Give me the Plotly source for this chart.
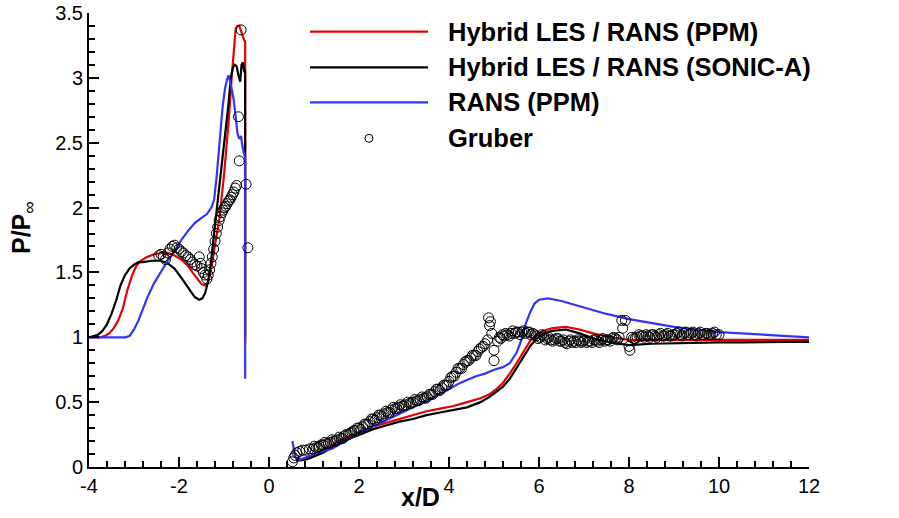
import plotly.graph_objects as go

# ---------------- data ----------------
red_x = [-4.0, -3.75, -3.65, -3.55, -3.45, -3.35, -3.25, -3.15, -3.05, -2.95, -2.85, -2.7, -2.55, -2.4,
         -2.25, -2.1, -1.95, -1.8, -1.7, -1.6, -1.5, -1.42, -1.36, -1.3, -1.2, -1.1, -1.0, -0.9, -0.83,
         -0.78, -0.74, -0.70, -0.66, -0.62, -0.58, -0.55, -0.53, -0.53, None,
         0.6, 0.7, 0.85, 1.0, 1.2, 1.4, 1.6, 1.8, 2.0, 2.3, 2.6, 2.9, 3.2, 3.5, 3.8, 4.1, 4.4, 4.7, 4.9,
         5.05, 5.2, 5.35, 5.5, 5.65, 5.8, 5.95, 6.1, 6.3, 6.6, 6.9, 7.2, 7.6, 8.0, 8.5, 9.0, 9.5, 10.0,
         10.5, 11.0, 11.5, 12.0]
red_y = [1.0, 1.0, 1.01, 1.03, 1.07, 1.13, 1.22, 1.36, 1.47, 1.55, 1.59, 1.62, 1.64, 1.65,
         1.65, 1.63, 1.60, 1.55, 1.50, 1.45, 1.41, 1.40, 1.42, 1.50, 1.70, 1.92, 2.25, 2.65, 3.00,
         3.25, 3.38, 3.40, 3.40, 3.36, 3.31, 3.29, 3.28, 0.95, None,
         0.06, 0.06, 0.07, 0.09, 0.13, 0.17, 0.21, 0.24, 0.27, 0.31, 0.34, 0.37, 0.40, 0.43, 0.45, 0.47,
         0.50, 0.53, 0.56, 0.60, 0.65, 0.72, 0.80, 0.89, 0.97, 1.02, 1.05, 1.07, 1.08, 1.06, 1.03, 1.00,
         0.98, 0.98, 0.98, 0.985, 0.985, 0.985, 0.98, 0.98, 0.98]

black_x = [-4.0, -3.9, -3.8, -3.7, -3.6, -3.5, -3.4, -3.3, -3.2, -3.1, -3.0, -2.9, -2.8, -2.6, -2.4,
           -2.25, -2.1, -1.95, -1.85, -1.75, -1.65, -1.55, -1.48, -1.42, -1.36, -1.3, -1.2, -1.1, -1.0,
           -0.9, -0.85, -0.80, -0.76, -0.72, -0.68, -0.64, -0.61, -0.58, -0.55, -0.53, -0.53, None,
           0.6, 0.7, 0.85, 1.0, 1.2, 1.4, 1.6, 1.8, 2.0, 2.3, 2.6, 2.9, 3.2, 3.5, 3.8, 4.1, 4.4, 4.7, 4.9,
           5.05, 5.2, 5.35, 5.5, 5.65, 5.8, 5.95, 6.1, 6.3, 6.6, 6.9, 7.2, 7.6, 8.0, 8.5, 9.0, 9.5, 10.0,
           10.5, 11.0, 11.5, 12.0]
black_y = [1.0, 1.01, 1.02, 1.05, 1.10, 1.18, 1.28, 1.40, 1.48, 1.53, 1.56, 1.58, 1.58, 1.59, 1.59,
           1.57, 1.53, 1.46, 1.41, 1.36, 1.31, 1.29, 1.30, 1.34, 1.42, 1.55, 1.85, 2.15, 2.45,
           2.80, 3.00, 3.08, 3.10, 3.09, 3.02, 2.97, 3.10, 3.12, 3.05, 3.05, 1.0, None,
           0.05, 0.05, 0.06, 0.08, 0.11, 0.15, 0.19, 0.22, 0.25, 0.29, 0.32, 0.35, 0.37, 0.40, 0.42, 0.44,
           0.46, 0.50, 0.54, 0.58, 0.62, 0.68, 0.76, 0.84, 0.93, 0.99, 1.03, 1.05, 1.06, 1.03, 0.99, 0.96,
           0.94, 0.95, 0.955, 0.96, 0.96, 0.96, 0.965, 0.965, 0.965]

blue_x = [-4.0, -3.2, -3.1, -3.0, -2.9, -2.8, -2.7, -2.55, -2.4, -2.25, -2.1, -1.95, -1.8, -1.65, -1.5,
          -1.38, -1.28, -1.22, -1.16, -1.09, -1.03, -0.98, -0.94, -0.90, -0.86, -0.82, -0.78, -0.74,
          -0.70, -0.66, -0.62, -0.59, -0.56, -0.53, -0.53, None,
          0.52, 0.54, 0.58, 0.65, 0.8, 1.0, 1.2, 1.4, 1.6, 1.8, 2.0, 2.3, 2.6, 2.9, 3.2, 3.5, 3.8, 4.0,
          4.2, 4.4, 4.6, 4.8, 5.0, 5.2, 5.35, 5.5, 5.6, 5.7, 5.8, 5.9, 6.0, 6.2, 6.5, 7.0, 7.5, 8.0, 8.5,
          9.0, 9.5, 10.0, 10.5, 11.0, 11.5, 12.0]
blue_y = [1.0, 1.0, 1.01, 1.06, 1.13, 1.22, 1.31, 1.42, 1.51, 1.59, 1.66, 1.75, 1.82, 1.88, 1.92,
          1.95, 2.00, 2.06, 2.25, 2.57, 2.78, 2.91, 2.98, 3.02, 2.97, 2.90, 2.82, 2.68,
          2.57, 2.53, 2.55, 2.47, 2.42, 2.38, 0.68, None,
          0.20, 0.15, 0.08, 0.05, 0.07, 0.10, 0.12, 0.14, 0.18, 0.22, 0.26, 0.31, 0.36, 0.41, 0.46, 0.51,
          0.56, 0.60, 0.64, 0.67, 0.70, 0.72, 0.75, 0.77, 0.80, 0.88, 0.97, 1.10, 1.19, 1.26, 1.29, 1.30,
          1.28, 1.23, 1.18, 1.14, 1.11, 1.08, 1.06, 1.04, 1.03, 1.02, 1.01, 1.00]

gruber_x = [-2.45, -2.40, -2.35, -2.30, -2.25, -2.20, -2.15, -2.10, -2.05, -2.00, -1.95, -1.90, -1.85,
            -1.80, -1.75, -1.70, -1.65, -1.60, -1.55, -1.52, -1.50, -1.46, -1.42, -1.38, -1.35, -1.32,
            -1.29, -1.26, -1.23, -1.20, -1.17, -1.14, -1.11, -1.08, -1.05, -1.02, -0.99, -0.96, -0.93,
            -0.90, -0.87, -0.84, -0.81, -0.78, -0.75, -0.72, -0.66, -0.68, -0.62, -0.51, -0.47,
            0.52, 0.55, 0.58, 0.62, 0.68, 0.75, 0.82, 0.90, 0.98, 1.05, 1.12, 1.20, 1.28, 1.36, 1.44, 1.52,
            1.60, 1.68, 1.76, 1.84, 1.92, 2.00, 2.08, 2.16, 2.24, 2.32, 2.40, 2.48, 2.56, 2.64, 2.72, 2.80,
            2.88, 2.96, 3.04, 3.12, 3.20, 3.28, 3.36, 3.44, 3.52, 3.60, 3.68, 3.76, 3.84, 3.92, 4.00, 4.08,
            4.16, 4.24, 4.32, 4.40, 4.48, 4.56, 4.64, 4.72, 4.80, 4.86, 4.88, 4.92, 4.90, 4.95, 5.00, 5.00,
            5.08, 5.15, 5.22, 5.30, 5.38, 5.46, 5.54, 5.62, 5.70, 5.78, 5.86, 5.94, 6.02, 6.10, 6.18, 6.26,
            6.34, 6.42, 6.50, 6.58, 6.66, 6.74, 6.82, 6.90, 6.98, 7.06, 7.14, 7.22, 7.30, 7.38, 7.46, 7.54,
            7.62, 7.70, 7.78, 7.84, 7.92, 7.86, 8.02, 8.00, 8.10, 8.18, 8.26, 8.34, 8.42, 8.50, 8.58, 8.66,
            8.74, 8.82, 8.90, 8.98, 9.06, 9.14, 9.22, 9.30, 9.38, 9.46, 9.54, 9.62, 9.70, 9.78, 9.86, 9.94,
            10.00,
            1.01, 1.09, 1.16, 1.24, 1.32, 1.40, 1.48, 1.56, 1.64, 1.72, 1.80, 1.88, 1.96, 2.04, 2.12, 2.20,
            2.28, 2.36, 2.44, 2.52, 2.60, 2.68, 2.76, 2.84, 2.92, 3.00, 3.08, 3.16, 3.24, 3.32, 3.40, 3.48,
            3.56, 3.64, 3.72, 3.80, 3.88, 3.96, 4.04, 4.12, 4.20, 4.28, 4.36, 4.44, 4.52, 4.60, 4.68, 4.76,
            5.12, 5.19, 5.26, 5.34, 5.42, 5.50, 5.58, 5.66, 5.74, 5.82, 5.90, 5.98, 6.06, 6.14, 6.22, 6.30,
            6.38, 6.46, 6.54, 6.62, 6.70, 6.78, 6.86, 6.94, 7.02, 7.10, 7.18, 7.26, 7.34, 7.42, 7.50, 7.58,
            7.66, 7.74, 8.06, 8.14, 8.22, 8.30, 8.38, 8.46, 8.54, 8.62, 8.70, 8.78, 8.86, 8.94, 9.02, 9.10,
            9.18, 9.26, 9.34, 9.42, 9.50, 9.58, 9.66, 9.74, 9.82, 9.90]
gruber_y = [1.63, 1.64, 1.62, 1.60, 1.65, 1.68, 1.70, 1.71, 1.69, 1.68, 1.66, 1.65, 1.63,
            1.62, 1.60, 1.58, 1.56, 1.55, 1.62, 1.57, 1.53, 1.50, 1.48, 1.45, 1.48, 1.52,
            1.57, 1.62, 1.68, 1.74, 1.80, 1.85, 1.90, 1.93, 1.96, 1.98, 2.00, 2.01, 2.03,
            2.05, 2.06, 2.08, 2.10, 2.12, 2.15, 2.17, 2.36, 2.70, 3.37, 2.18, 1.69,
            0.04, 0.07, 0.09, 0.11, 0.12, 0.13, 0.13, 0.14, 0.14, 0.15, 0.16, 0.17, 0.18, 0.19, 0.20, 0.21,
            0.22, 0.24, 0.25, 0.27, 0.28, 0.30, 0.31, 0.33, 0.35, 0.37, 0.38, 0.40, 0.41, 0.42, 0.44, 0.45,
            0.46, 0.47, 0.48, 0.49, 0.50, 0.51, 0.52, 0.53, 0.54, 0.56, 0.58, 0.60, 0.61, 0.63, 0.66, 0.70,
            0.73, 0.76, 0.79, 0.82, 0.84, 0.86, 0.89, 0.92, 0.95, 0.98, 1.15, 1.12, 1.09, 1.03, 0.90, 0.82,
            0.97, 0.99, 1.01, 1.02, 1.03, 1.03, 1.04, 1.04, 1.03, 1.04, 1.03, 1.01, 1.00, 1.01, 0.99, 0.98,
            0.98, 0.99, 0.97, 0.96, 0.97, 0.96, 0.96, 0.97, 0.97, 0.96, 0.97, 0.98, 0.97, 0.98, 0.97, 0.98,
            0.99, 0.99, 1.00, 1.13, 1.13, 1.07, 0.90, 0.93, 0.99, 1.00, 1.01, 1.00, 1.01, 1.02, 1.01, 1.02,
            1.01, 1.02, 1.01, 1.02, 1.03, 1.02, 1.03, 1.02, 1.03, 1.02, 1.03, 1.02, 1.03, 1.02, 1.03, 1.02,
            1.02,
            0.16, 0.15, 0.17, 0.19, 0.18, 0.21, 0.20, 0.23, 0.22, 0.25, 0.26, 0.28, 0.30, 0.29, 0.33, 0.33,
            0.37, 0.36, 0.40, 0.39, 0.43, 0.42, 0.46, 0.45, 0.48, 0.47, 0.50, 0.49, 0.52, 0.51, 0.54, 0.53,
            0.56, 0.56, 0.60, 0.59, 0.63, 0.63, 0.69, 0.70, 0.76, 0.76, 0.81, 0.82, 0.86, 0.86, 0.91, 0.93,
            1.00, 1.02, 1.03, 1.01, 1.05, 1.04, 1.02, 1.05, 1.04, 1.02, 1.02, 0.99, 1.02, 0.98, 1.00, 0.97,
            0.99, 0.97, 0.98, 0.95, 0.98, 0.97, 0.98, 0.96, 0.98, 0.97, 0.96, 0.98, 0.96, 0.99, 0.98, 0.97,
            1.00, 0.98, 1.00, 0.99, 1.02, 1.01, 1.02, 1.00, 1.02, 1.00, 1.03, 1.01, 1.03, 1.01, 1.02, 1.04,
            1.01, 1.04, 1.02, 1.04, 1.01, 1.04, 1.02, 1.03, 1.02, 1.04]

series_names = ["Hybrid LES / RANS (PPM)", "Hybrid LES / RANS (SONIC-A)", "RANS (PPM)", "Gruber"]
x_ticks = [-4, -2, 0, 2, 4, 6, 8, 10, 12]
y_ticks = [0, 0.5, 1, 1.5, 2, 2.5, 3, 3.5]
y_tick_labels = ["0", "0.5", "1", "1.5", "2", "2.5", "3", "3.5"]

RED = "#e60000"
BLACK = "#000000"
BLUE = "#3333ff"
FONT = "Liberation Sans, Arial, sans-serif"

# ---------------- figure ----------------
fig = go.Figure()
for nm, xs, ys, col in [(series_names[0], red_x, red_y, RED),
                        (series_names[1], black_x, black_y, BLACK),
                        (series_names[2], blue_x, blue_y, BLUE)]:
    fig.add_trace(go.Scatter(x=xs, y=ys, mode="lines", name=nm, showlegend=False,
                             line=dict(color=col, width=2.2), connectgaps=False))
fig.add_trace(go.Scatter(x=gruber_x, y=gruber_y, mode="markers", name=series_names[3], showlegend=False,
                         marker=dict(symbol="circle-open", size=10, color="black", line=dict(width=1))))

L, R, T, B = 89, 90, 13, 51
W, H = 899, 518
pw, ph = W - L - R, H - T - B


def px(xp):
    return (xp - L) / pw


def py(yp):
    return (H - B - yp) / ph


axis_common = dict(showline=True, linewidth=2, linecolor="black", showgrid=False, zeroline=False,
                   ticks="inside", ticklen=10, tickwidth=2, tickcolor="black", automargin=False,
                   tickfont=dict(family=FONT, size=20, color="black"), mirror=False)
fig.update_layout(
    width=W, height=H, margin=dict(l=L, r=R, t=T, b=B, autoexpand=False),
    paper_bgcolor="white", plot_bgcolor="white",
    xaxis=dict(range=[-4, 12], tickvals=x_ticks, ticktext=[str(v) for v in x_ticks],
               minor=dict(tick0=-4, dtick=0.4, ticks="inside", ticklen=6, tickwidth=1.5, tickcolor="black"),
               **axis_common),
    yaxis=dict(range=[0, 3.5], tickvals=y_ticks, ticktext=y_tick_labels,
               minor=dict(tick0=0, dtick=0.1, ticks="inside", ticklen=6, tickwidth=1.5, tickcolor="black"),
               **axis_common),
    showlegend=False,
)

# axis titles
fig.add_annotation(text="<b>x/D</b>", xref="paper", yref="paper", x=px(420), y=py(497),
                   showarrow=False, font=dict(family=FONT, size=25, color="black"),
                   xanchor="center", yanchor="middle")
fig.add_annotation(text="<b>P/P</b><sub>∞</sub>", xref="paper", yref="paper", x=px(23), y=py(228),
                   showarrow=False, textangle=-90, font=dict(family=FONT, size=25, color="black"),
                   xanchor="center", yanchor="middle")

# custom legend
rows = [31.7, 67.3, 102.3, 138.3]
cols = [RED, BLACK, BLUE]
for i, nm in enumerate(series_names):
    yv = py(rows[i])
    if i < 3:
        fig.add_shape(type="line", xref="paper", yref="paper", x0=px(310), x1=px(428), y0=yv, y1=yv,
                      line=dict(color=cols[i], width=2.2))
    else:
        fig.add_shape(type="circle", xref="paper", yref="paper", xsizemode="pixel", ysizemode="pixel",
                      xanchor=px(369), yanchor=yv, x0=-4, x1=4, y0=-4, y1=4,
                      line=dict(color="black", width=1))
    fig.add_annotation(text="<b>" + nm + "</b>", xref="paper", yref="paper", x=px(446), y=yv,
                       showarrow=False, xanchor="left", yanchor="middle",
                       font=dict(family=FONT, size=25.5, color="black"))

fig.write_html("out.html", config={"displayModeBar": False},
               post_script="document.body.style.margin='0';document.body.style.overflow='hidden';")
